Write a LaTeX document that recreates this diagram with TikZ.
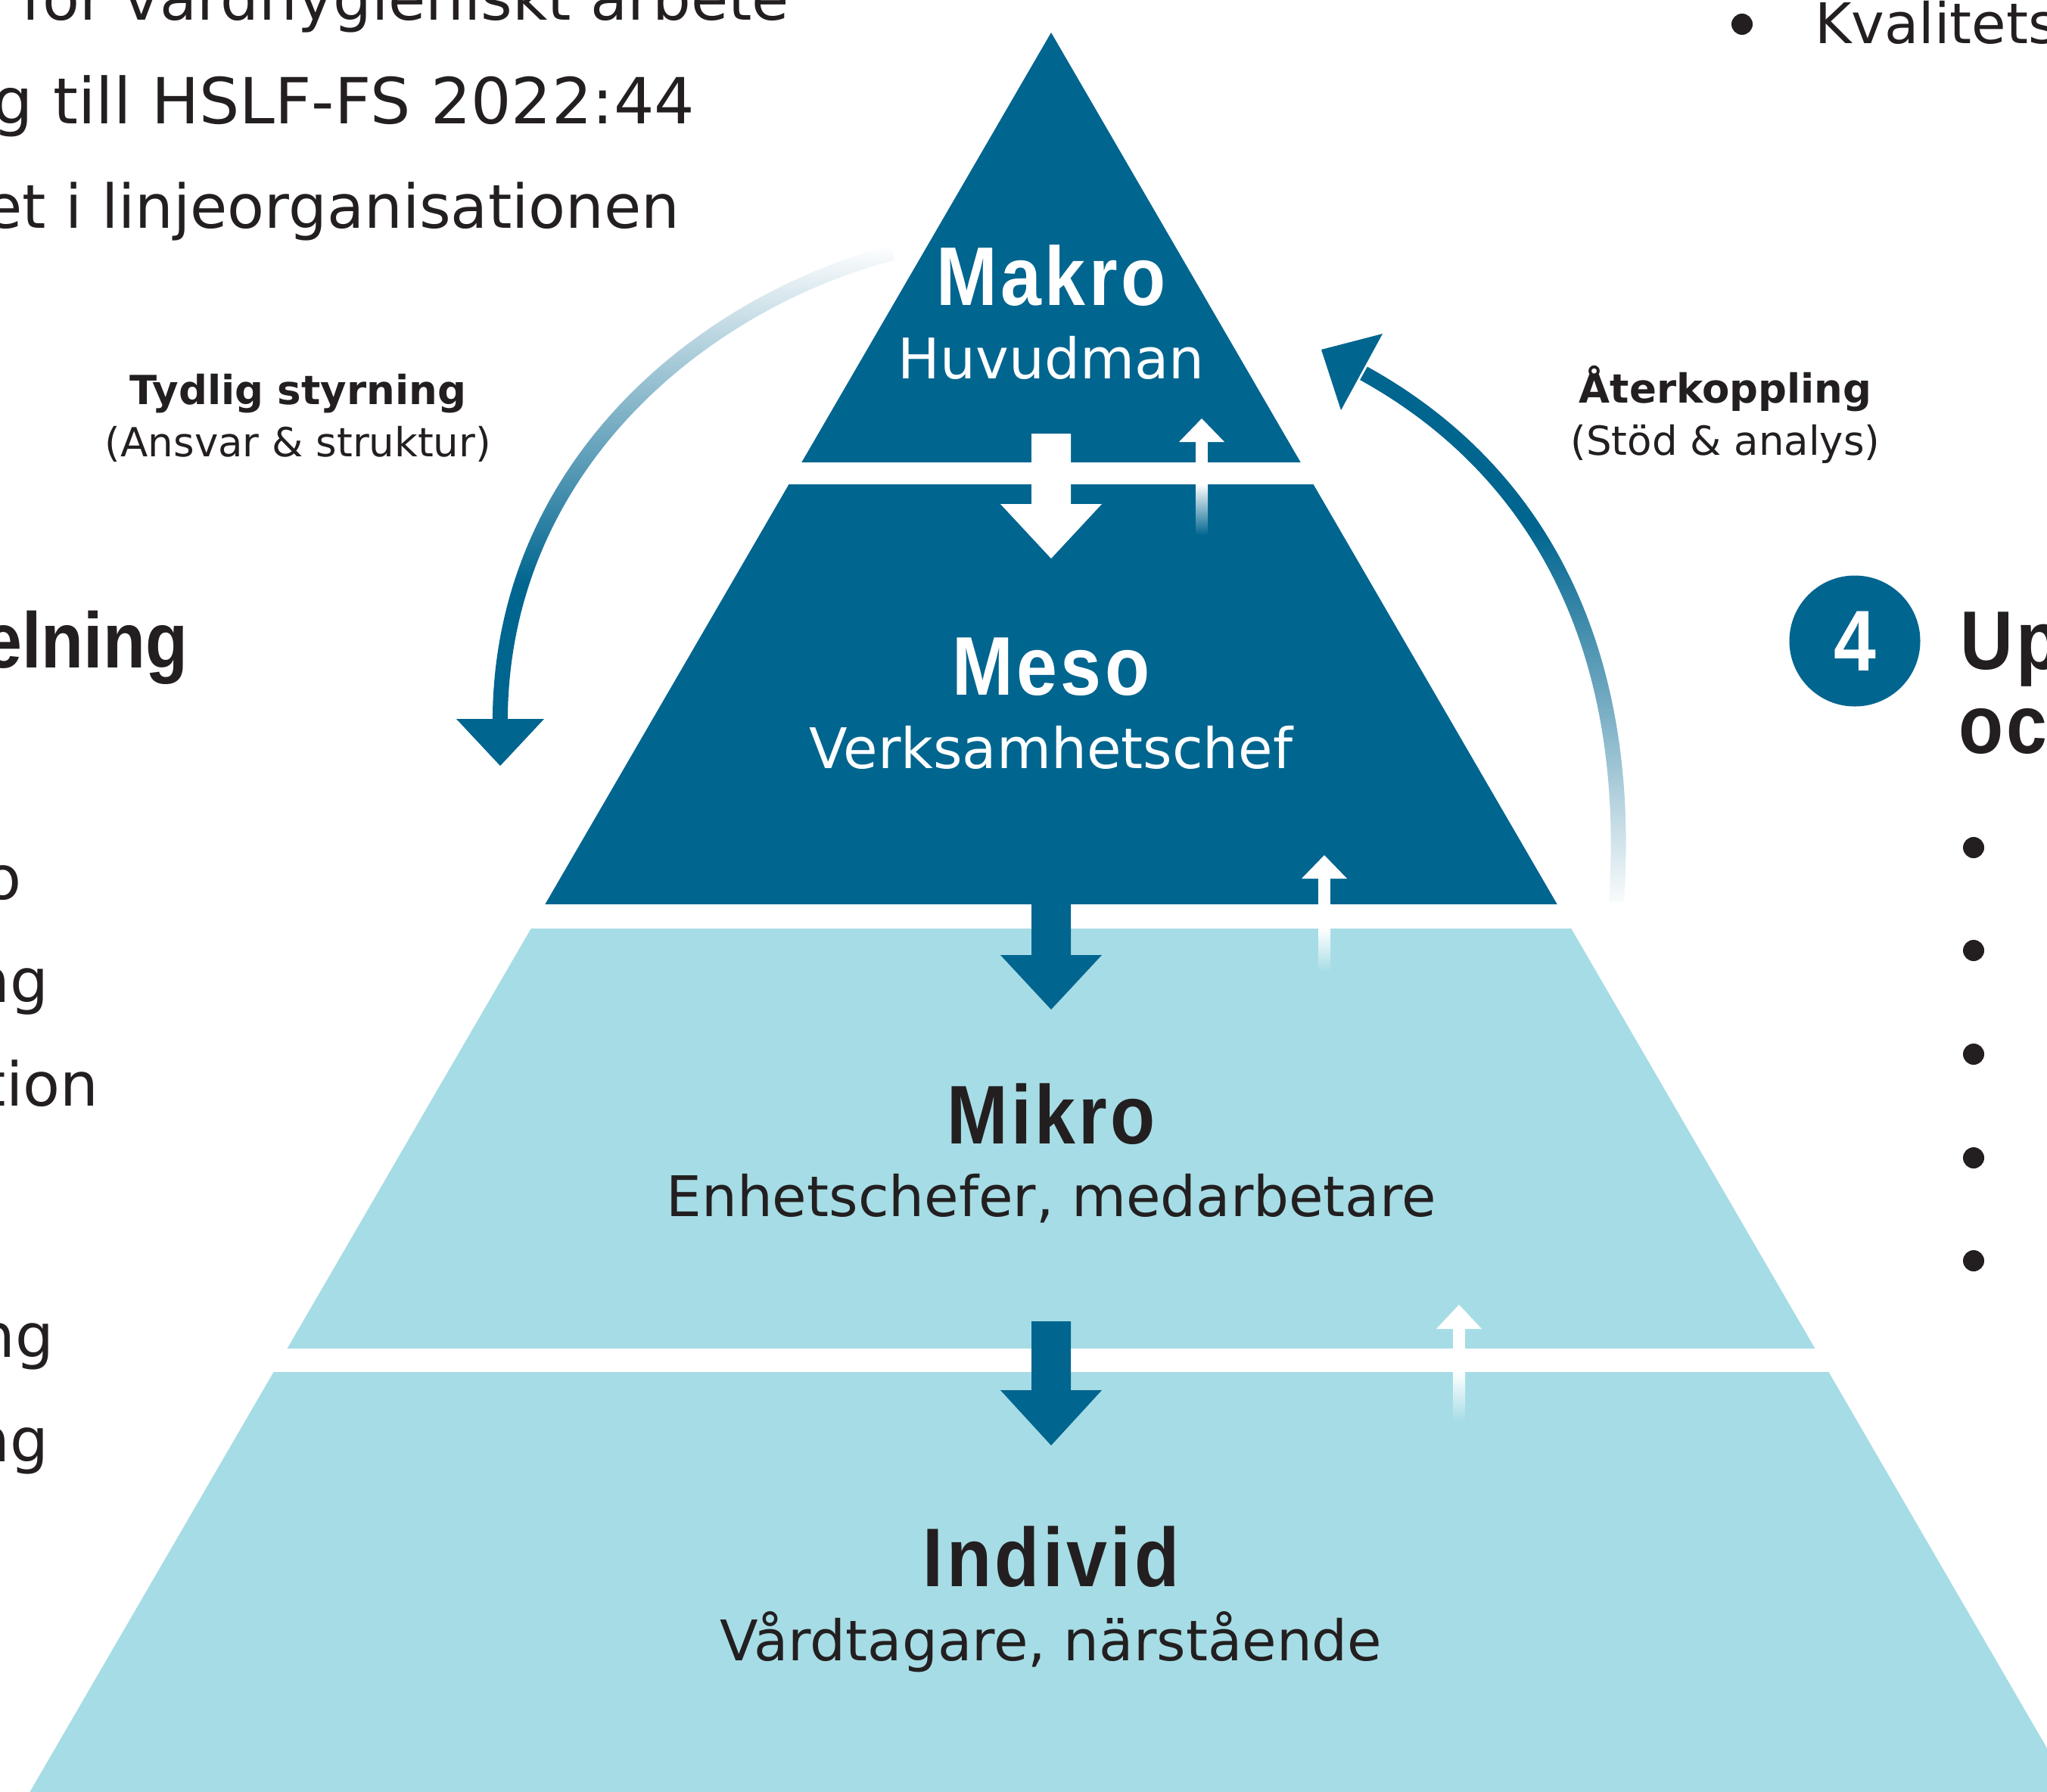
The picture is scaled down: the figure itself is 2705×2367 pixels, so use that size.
\documentclass[tikz,border=0pt]{standalone}
\usepackage{fontspec}
\setmainfont{DejaVu Sans}
\newfontfamily\hfont[FakeStretch=0.88,LetterSpace=4]{Liberation Sans}
\newfontfamily\hfontb[FakeStretch=0.88]{Liberation Sans}
\usetikzlibrary{fadings}
\definecolor{dblue}{RGB}{0,101,143}
\definecolor{lblue}{RGB}{166,220,229}
\definecolor{ink}{RGB}{35,31,32}
% fit fading maps the path's bounding box onto the 25bp..75bp band of the fading
\pgfdeclareverticalshading{shLeft}{100bp}{color(0bp)=(white); color(40bp)=(white); color(75bp)=(black); color(100bp)=(black)}
\pgfdeclarefading{fadeLeft}{\pgfuseshading{shLeft}}
\pgfdeclareverticalshading{shRight}{100bp}{color(0bp)=(black); color(25bp)=(black); color(60bp)=(white); color(100bp)=(white)}
\pgfdeclarefading{fadeRight}{\pgfuseshading{shRight}}
\tikzset{
  lbl/.style={inner sep=0pt, outer sep=0pt},
  body/.style={lbl, text=ink, font=\fontsize{80}{96}\selectfont},
  bodybig/.style={lbl, text=ink, font=\fontsize{84}{100}\selectfont},
  sub/.style={lbl, font=\fontsize{74}{88}\selectfont},
  head/.style={lbl, font=\hfont\bfseries\fontsize{110}{120}\selectfont},
  sidehead/.style={lbl, text=ink, font=\hfontb\bfseries\fontsize{104}{120}\selectfont},
  note/.style={lbl, text=ink, font=\fontsize{53}{64}\selectfont},
  notebold/.style={lbl, text=ink, font=\bfseries\fontsize{53}{64}\selectfont},
  dot/.style={circle, fill=ink, minimum size=28pt, inner sep=0pt},
  curvearrow/.style={dblue, line width=20pt},
}
\begin{document}
\begin{tikzpicture}[x=1pt,y=-1pt]
\useasboundingbox (0,0) rectangle (2705,2367);
\clip (0,0) rectangle (2705,2367);

% ---------- pyramid ----------
\coordinate (apex) at (1389,43);
\begin{scope}
  \clip (apex) -- (2757.2,2400) -- (20.8,2400) -- cycle;
  \fill[dblue] (0,0) rectangle (2705,611);
  \fill[dblue] (0,640) rectangle (2705,1195);
  \fill[lblue] (0,1227) rectangle (2705,1782);
  \fill[lblue] (0,1813) rectangle (2705,2400);
\end{scope}

% ---------- block arrows (down) ----------
\fill[white, shift={(1389,573)}] (-26,0) -- (26,0) -- (26,93) -- (67,93) -- (0,165) -- (-67,93) -- (-26,93) -- cycle;
\fill[dblue, shift={(1389,1190)}] (-26,0) -- (26,0) -- (26,72) -- (67,72) -- (0,144) -- (-67,72) -- (-26,72) -- cycle;
\fill[dblue, shift={(1389,1746)}] (-26,0) -- (26,0) -- (26,91) -- (67,91) -- (0,164) -- (-67,91) -- (-26,91) -- cycle;

% ---------- small up arrows ----------
\fill[white] (1558,584) -- (1588,553) -- (1618,584) -- cycle;
\fill[white] (1580,583) rectangle (1596,641);
\shade[top color=white, bottom color=dblue] (1580,640) rectangle (1596,707);

\fill[white] (1720,1161) -- (1750,1130) -- (1780,1161) -- cycle;
\fill[white] (1742,1160) rectangle (1758,1228);
\shade[top color=white, bottom color=lblue] (1742,1227) rectangle (1758,1284);

\fill[white] (1898,1756) -- (1928,1724) -- (1958,1756) -- cycle;
\fill[white] (1920,1755) rectangle (1936,1814);
\shade[top color=white, bottom color=lblue] (1920,1813) rectangle (1936,1878);

% ---------- curved arrows ----------
\coordinate (Ls) at (1180,334);
\coordinate (Le) at (661,954);
\draw[curvearrow, path fading=fadeLeft] (Ls) .. controls (924,401) and (661,620) .. (Le);
\fill[dblue] (603,950) -- (719,950) -- (661,1012) -- cycle;

\coordinate (Rs) at (2136,1192);
\coordinate (Re) at (1802,493);
\draw[curvearrow, path fading=fadeRight] (Rs) .. controls (2160,840) and (2021,614) .. (Re);
\fill[dblue] (1746,462) -- (1827,441) -- (1772,542) -- cycle;

% ---------- pyramid texts ----------
\node[head, text=white, anchor=base] (makro) at (1389,403) {Makro};
\node[sub, text=white, anchor=base] (huvud) at (1389,500) {Huvudman};
\node[head, text=white, anchor=base] (meso) at (1389,918) {Meso};
\node[sub, text=white, anchor=base] (verk) at (1389,1015) {Verksamhetschef};
\node[head, text=ink, anchor=base] (mikro) at (1389,1511) {Mikro};
\node[sub, text=ink, anchor=base] (enhet) at (1389,1607) {Enhetschefer, medarbetare};
\node[head, text=ink, anchor=base] (indiv) at (1389,2096) {Individ};
\node[sub, text=ink, anchor=base] (vard) at (1389,2194) {Vårdtagare, närstående};

% ---------- arrow labels ----------
\node[notebold, anchor=base] (tyd) at (394,534) {Tydlig styrning};
\node[note, anchor=base] (ans) at (394,603) {(Ansvar \& struktur)};
\node[notebold, anchor=base] (ater) at (2280,532) {Återkoppling};
\node[note, anchor=base] (stod) at (2280,601) {(Stöd \& analys)};

% ---------- top-left text ----------
\node[body, anchor=base east] (tl1) at (1043,26) {för vårdhygieniskt arbete};
\node[bodybig, anchor=base east] (tl2) at (918,163) {g till HSLF-FS 2022:44};
\node[body, anchor=base east] (tl3) at (898,301) {et i linjeorganisationen};

% ---------- top-right ----------
\node[dot] (trb) at (2302,32) {};
\node[lbl, text=ink, font=\fontsize{74}{90}\selectfont, anchor=base west] (kval) at (2398,57) {Kvalitets};

% ---------- left column ----------
\node[sidehead, anchor=base east] (elning) at (248,882) {elning};
\node[body, anchor=base east] (l1) at (28,1188) {o};
\node[body, anchor=base east] (l2) at (64,1324) {ng};
\node[body, anchor=base east] (l3) at (130,1461) {tion};
\node[body, anchor=base east] (l4) at (71,1793) {ng};
\node[body, anchor=base east] (l5) at (64,1931) {ng};

% ---------- right column ----------
\node[circle, fill=dblue, minimum size=173pt, inner sep=0pt] (c4) at (2451,847) {};
\node[lbl, text=white, font=\hfontb\bfseries\fontsize{114}{120}\selectfont, anchor=base] (four) at (2451,886) {4};
\node[head, text=ink, anchor=base west] (up) at (2590,884) {Up};
\node[head, text=ink, anchor=base west] (oc) at (2588,995) {oc};
\node[dot] (b1) at (2608,1120) {};
\node[dot] (b2) at (2608,1256) {};
\node[dot] (b3) at (2608,1393) {};
\node[dot] (b4) at (2608,1530) {};
\node[dot] (b5) at (2608,1666) {};
\end{tikzpicture}
\end{document}
